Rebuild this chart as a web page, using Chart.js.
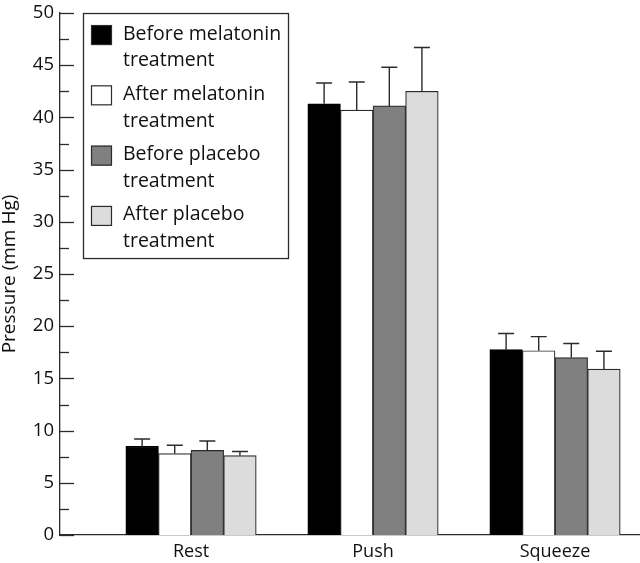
<!DOCTYPE html>
<html>
<head>
<meta charset="utf-8">
<script src="https://cdn.jsdelivr.net/npm/chart.js@4/dist/chart.umd.min.js"></script>
<style>
  html, body { margin: 0; padding: 0; background: #fff; overflow: hidden; }
  #wrap { position: relative; width: 640px; height: 563px; }
</style>
</head>
<body>
<div id="wrap"><canvas id="chart"></canvas></div>
<script>
// Data (mean, and upward error bar size)
const categories = ["Rest", "Push", "Squeeze"]
const seriesNames = [
  ["Before melatonin", "treatment"],
  ["After melatonin", "treatment"],
  ["Before placebo", "treatment"],
  ["After placebo", "treatment"],
]
const beforeMelatonin = [8.5, 41.3, 17.75]
const afterMelatonin = [7.8, 40.7, 17.65]
const beforePlacebo = [8.1, 41.1, 17.0]
const afterPlacebo = [7.6, 42.5, 15.9]

const beforeMelatoninErr = [0.7, 2.0, 1.55]
const afterMelatoninErr = [0.8, 2.7, 1.35]
const beforePlaceboErr = [0.9, 3.7, 1.35]
const afterPlaceboErr = [0.4, 4.2, 1.7]

const yTicks = [0, 5, 10, 15, 20, 25, 30, 35, 40, 45, 50]

const FONT = "'Open Sans', 'DejaVu Sans', sans-serif"
const INK = "#2b2b2b"

const seriesValues = [beforeMelatonin, afterMelatonin, beforePlacebo, afterPlacebo]
const seriesErrors = [beforeMelatoninErr, afterMelatoninErr, beforePlaceboErr, afterPlaceboErr]
const fills = ["#000000", "#ffffff", "#808080", "#dcdcdc"]

// category positions on a linear x axis (1, 2, 3)
const xPos = categories.map((c, i) => i + 1)

const datasets = seriesValues.map((vals, s) => ({
  label: seriesNames[s].join(" "),
  data: vals.map((v, i) => ({ x: xPos[i], y: v })),
  errors: seriesErrors[s],
  backgroundColor: fills[s],
  borderColor: s === 0 ? "#000" : INK,
  borderWidth: 1.2,
  borderSkipped: "bottom",
  barThickness: 32.6,
}))

// upward-only error bars
const errorBars = {
  id: "errorBars",
  afterDatasetsDraw(chart) {
    const ctx = chart.ctx
    const y = chart.scales.y
    ctx.save()
    ctx.strokeStyle = INK
    ctx.lineWidth = 1.4
    chart.data.datasets.forEach((ds, di) => {
      const meta = chart.getDatasetMeta(di)
      meta.data.forEach((bar, i) => {
        const top = y.getPixelForValue(ds.data[i].y + ds.errors[i])
        ctx.beginPath()
        ctx.moveTo(bar.x, bar.y)
        ctx.lineTo(bar.x, top)
        ctx.moveTo(bar.x - 8, top)
        ctx.lineTo(bar.x + 8, top)
        ctx.stroke()
      })
    })
    ctx.restore()
  },
}

// inward tick marks on the y axis
const innerTicks = {
  id: "innerTicks",
  afterDraw(chart) {
    const ctx = chart.ctx
    const y = chart.scales.y
    const left = chart.chartArea.left
    ctx.save()
    ctx.strokeStyle = INK
    ctx.lineWidth = 1.3
    y.ticks.forEach((t) => {
      const py = Math.round(y.getPixelForValue(t.value)) + 0.5
      const len = t.value % 5 === 0 ? 14 : 9
      ctx.beginPath()
      ctx.moveTo(left, py)
      ctx.lineTo(left + len, py)
      ctx.stroke()
    })
    ctx.restore()
  },
}

// boxed legend in the top-left of the plot
const boxLegend = {
  id: "boxLegend",
  afterDraw(chart) {
    const ctx = chart.ctx
    const a = chart.chartArea
    const bx = a.left + 23, by = a.top
    const bw = 205, bh = 245
    ctx.save()
    ctx.fillStyle = "#fff"
    ctx.fillRect(bx, by, bw, bh)
    ctx.strokeStyle = INK
    ctx.lineWidth = 1.3
    ctx.strokeRect(bx + 0.5, by + 0.5, bw, bh)
    ctx.font = "19.5px " + FONT
    ctx.textBaseline = "alphabetic"
    chart.data.datasets.forEach((ds, i) => {
      const rowTop = by + 12 + i * 60.3
      ctx.fillStyle = ds.backgroundColor
      ctx.fillRect(bx + 8, rowTop, 21, 20)
      ctx.strokeStyle = INK
      ctx.lineWidth = 1.2
      ctx.strokeRect(bx + 8.5, rowTop + 0.5, 20, 19)
      ctx.fillStyle = "#111"
      seriesNames[i].forEach((line, k) => {
        ctx.fillText(line, bx + 40, rowTop + 14.5 + k * 26.7)
      })
    })
    ctx.restore()
  },
}

new Chart(document.getElementById("chart"), {
  type: "bar",
  data: { datasets },
  plugins: [errorBars, innerTicks, boxLegend],
  options: {
    responsive: true,
    maintainAspectRatio: false,
    animation: false,
    layout: { padding: 0 },
    plugins: {
      legend: { display: false },
      tooltip: { enabled: false },
    },
    scales: {
      x: {
        type: "linear",
        min: 0.28,
        max: 3.467,
        offset: false,
        grid: { display: false, drawTicks: false },
        border: { color: INK, width: 1.3 },
        ticks: {
          stepSize: 1,
          includeBounds: false,
          autoSkip: false,
          maxRotation: 0,
          padding: 6,
          color: "#111",
          font: { family: FONT, size: 18 },
          callback: (v) => (Number.isInteger(v) && v >= 1 && v <= categories.length ? categories[v - 1] : ""),
        },
        afterFit: (s) => { s.height = 28 },
      },
      y: {
        min: 0,
        max: 50,
        grid: { display: false, drawTicks: false },
        border: { color: INK, width: 1.3 },
        ticks: {
          stepSize: 2.5,
          autoSkip: false,
          padding: 6,
          color: "#111",
          font: { family: FONT, size: 18.5, lineHeight: 0.76 },
          callback: (v) => (yTicks.includes(v) ? String(v) : ""),
        },
        title: {
          display: true,
          text: "Pressure (mm Hg)",
          color: "#111",
          font: { family: FONT, size: 19 },
          padding: { top: -2, bottom: 0 },
        },
        afterFit: (s) => { s.width = 60 },
      },
    },
  },
})
</script>
</body>
</html>
